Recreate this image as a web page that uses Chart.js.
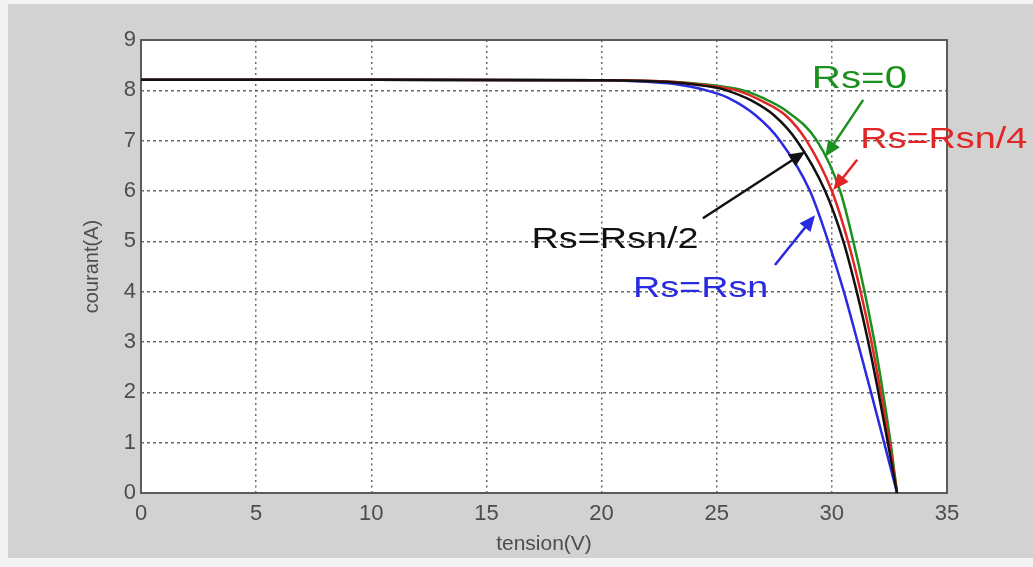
<!DOCTYPE html>
<html>
<head>
<meta charset="utf-8">
<title>courant / tension</title>
<script src="https://cdn.jsdelivr.net/npm/chart.js@4/dist/chart.umd.min.js"></script>
<style>
    html, body { margin: 0; padding: 0; background: #f3f3f3; }
    #frame { position: absolute; left: 8px; top: 4px; width: 1025px; height: 554px; background: #d2d2d2; }
    #wrap { position: absolute; left: 0; top: 0; width: 1033px; height: 567px; }
</style>
</head>
<body>
<div id="frame"></div>
<div id="wrap"><canvas id="ivChart" width="1033" height="567"></canvas></div>
<script>
// Tick labels
const xTicks = [0, 5, 10, 15, 20, 25, 30, 35];
const yTicks = [0, 1, 2, 3, 4, 5, 6, 7, 8, 9];

// Series names (also used as annotation text)
const seriesNames = ['Rs=Rsn/2', 'Rs=Rsn/4', 'Rs=0', 'Rs=Rsn'];
const seriesColors = ['#111111', '#e22525', '#1c901c', '#2a2ae0'];

// Rs = Rsn/2 (black)
const voltHalf = [0, 10, 20, 23, 25, 25.43, 26.5, 27.5, 28.48, 29.71, 30.5, 31.08, 31.58, 32.02, 32.43, 32.83];
const currHalf = [8.21, 8.21, 8.2, 8.16, 8.05, 8.0, 7.8, 7.5, 7.0, 6.0, 5.0, 4.0, 3.0, 2.0, 1.0, 0];

// Rs = Rsn/4 (red)
const voltQuarter = [0, 10, 20, 23, 25, 25.87, 27, 28, 28.9, 30.0, 30.7, 31.25, 31.72, 32.12, 32.5, 32.83];
const currQuarter = [8.21, 8.21, 8.2, 8.17, 8.07, 8.0, 7.78, 7.5, 7.0, 6.0, 5.0, 4.0, 3.0, 2.0, 1.0, 0];

// Rs = 0 (green)
const voltZero = [0, 10, 20, 23, 25, 26.15, 27, 28, 29.35, 30.36, 30.93, 31.42, 31.85, 32.22, 32.55, 32.83];
const currZero = [8.21, 8.21, 8.2, 8.17, 8.09, 8.0, 7.85, 7.6, 7.0, 6.0, 5.0, 4.0, 3.0, 2.0, 1.0, 0];

// Rs = Rsn (blue)
const voltFull = [0, 10, 20, 22, 23.1, 24.56, 25.5, 26.7, 27.75, 29.05, 29.84, 30.52, 31.12, 31.7, 32.27, 32.83];
const currFull = [8.21, 8.21, 8.2, 8.17, 8.13, 8.0, 7.85, 7.5, 7.0, 6.0, 5.0, 4.0, 3.0, 2.0, 1.0, 0];

// Annotations in data units: text position (left, baseline), arrow tail -> tip
const labelPos = [[16.96, 4.87], [31.23, 6.85], [29.13, 8.04], [21.36, 3.9]];
const arrowTail = [[24.4, 5.46], [31.1, 6.62], [31.36, 7.81], [27.53, 4.53]];
const arrowTip = [[28.84, 6.78], [30.06, 6.02], [29.71, 6.68], [29.27, 5.52]];
const labelSize = [30, 30, 32, 30];

const FONT = '"Liberation Sans", Arial, sans-serif';

function toPoints(volts, currents) {
    return volts.map((v, i) => ({ x: v, y: currents[i] }));
}

const curves = [
    toPoints(voltHalf, currHalf),
    toPoints(voltQuarter, currQuarter),
    toPoints(voltZero, currZero),
    toPoints(voltFull, currFull)
];

const plotFrame = {
    id: 'plotFrame',
    beforeDraw(chart) {
        const { ctx, chartArea: a } = chart;
        ctx.save();
        ctx.fillStyle = '#ffffff';
        ctx.fillRect(a.left, a.top, a.right - a.left, a.bottom - a.top);
        ctx.restore();
    },
    beforeDatasetsDraw(chart) {
        const { ctx, chartArea: a } = chart;
        ctx.save();
        ctx.strokeStyle = '#5a5a5a';
        ctx.lineWidth = 2;
        ctx.strokeRect(a.left, a.top, a.right - a.left, a.bottom - a.top);
        ctx.restore();
    }
};

function drawArrow(ctx, x1, y1, x2, y2, color) {
    const ang = Math.atan2(y2 - y1, x2 - x1);
    const head = 16, half = 7;
    ctx.strokeStyle = color;
    ctx.fillStyle = color;
    ctx.lineWidth = 2.5;
    ctx.beginPath();
    ctx.moveTo(x1, y1);
    ctx.lineTo(x2 - Math.cos(ang) * head * 0.8, y2 - Math.sin(ang) * head * 0.8);
    ctx.stroke();
    ctx.beginPath();
    ctx.moveTo(x2, y2);
    ctx.lineTo(x2 - Math.cos(ang) * head - Math.sin(ang) * half, y2 - Math.sin(ang) * head + Math.cos(ang) * half);
    ctx.lineTo(x2 - Math.cos(ang) * head + Math.sin(ang) * half, y2 - Math.sin(ang) * head - Math.cos(ang) * half);
    ctx.closePath();
    ctx.fill();
}

const curveLabels = {
    id: 'curveLabels',
    afterDatasetsDraw(chart) {
        const { ctx, scales: { x, y } } = chart;
        ctx.save();
        seriesNames.forEach((name, i) => {
            const color = seriesColors[i];
            drawArrow(ctx,
                x.getPixelForValue(arrowTail[i][0]), y.getPixelForValue(arrowTail[i][1]),
                x.getPixelForValue(arrowTip[i][0]), y.getPixelForValue(arrowTip[i][1]), color);

            ctx.save();
            ctx.translate(x.getPixelForValue(labelPos[i][0]), y.getPixelForValue(labelPos[i][1]));
            ctx.scale(1.26, 1);
            ctx.font = labelSize[i] + 'px ' + FONT;
            ctx.fillStyle = color;
            ctx.textAlign = 'left';
            ctx.textBaseline = 'alphabetic';
            ctx.fillText(name, 0, 0);
            ctx.restore();
        });
        ctx.restore();
    }
};

const ctx = document.getElementById('ivChart').getContext('2d');

new Chart(ctx, {
    type: 'scatter',
    data: {
        datasets: curves.map((pts, i) => ({
            label: seriesNames[i],
            data: pts,
            showLine: true,
            borderColor: seriesColors[i],
            backgroundColor: seriesColors[i],
            borderWidth: 2.5,
            pointRadius: 0,
            cubicInterpolationMode: 'monotone'
        }))
    },
    options: {
        responsive: false,
        animation: false,
        layout: {
            padding: { left: 0, top: 40, right: 86, bottom: 0 }
        },
        plugins: {
            legend: { display: false },
            tooltip: { enabled: false }
        },
        scales: {
            x: {
                type: 'linear',
                min: 0,
                max: 35,
                afterFit: (scale) => { scale.height = 74; },
                afterBuildTicks: (scale) => { scale.ticks = xTicks.map(v => ({ value: v })); },
                ticks: {
                    padding: 8,
                    color: '#4d4d4d',
                    font: { family: FONT, size: 22 }
                },
                grid: {
                    color: '#6a6a6a',
                    lineWidth: 1.5,
                    drawTicks: false
                },
                border: { display: false, dash: [2, 3.5] },
                title: {
                    display: true,
                    text: 'tension(V)',
                    color: '#4d4d4d',
                    font: { family: FONT, size: 21 },
                    padding: { top: 0, bottom: 10 }
                }
            },
            y: {
                type: 'linear',
                min: 0,
                max: 9,
                afterFit: (scale) => { scale.width = 141; },
                afterBuildTicks: (scale) => { scale.ticks = yTicks.map(v => ({ value: v })); },
                ticks: {
                    padding: 5,
                    color: '#4d4d4d',
                    font: { family: FONT, size: 22 }
                },
                grid: {
                    color: '#6a6a6a',
                    lineWidth: 1.5,
                    drawTicks: false
                },
                border: { display: false, dash: [3, 3] },
                title: {
                    display: true,
                    text: 'courant(A)',
                    color: '#4d4d4d',
                    font: { family: FONT, size: 20 },
                    padding: { top: 80, bottom: 0 }
                }
            }
        }
    },
    plugins: [plotFrame, curveLabels]
});
</script>
</body>
</html>
